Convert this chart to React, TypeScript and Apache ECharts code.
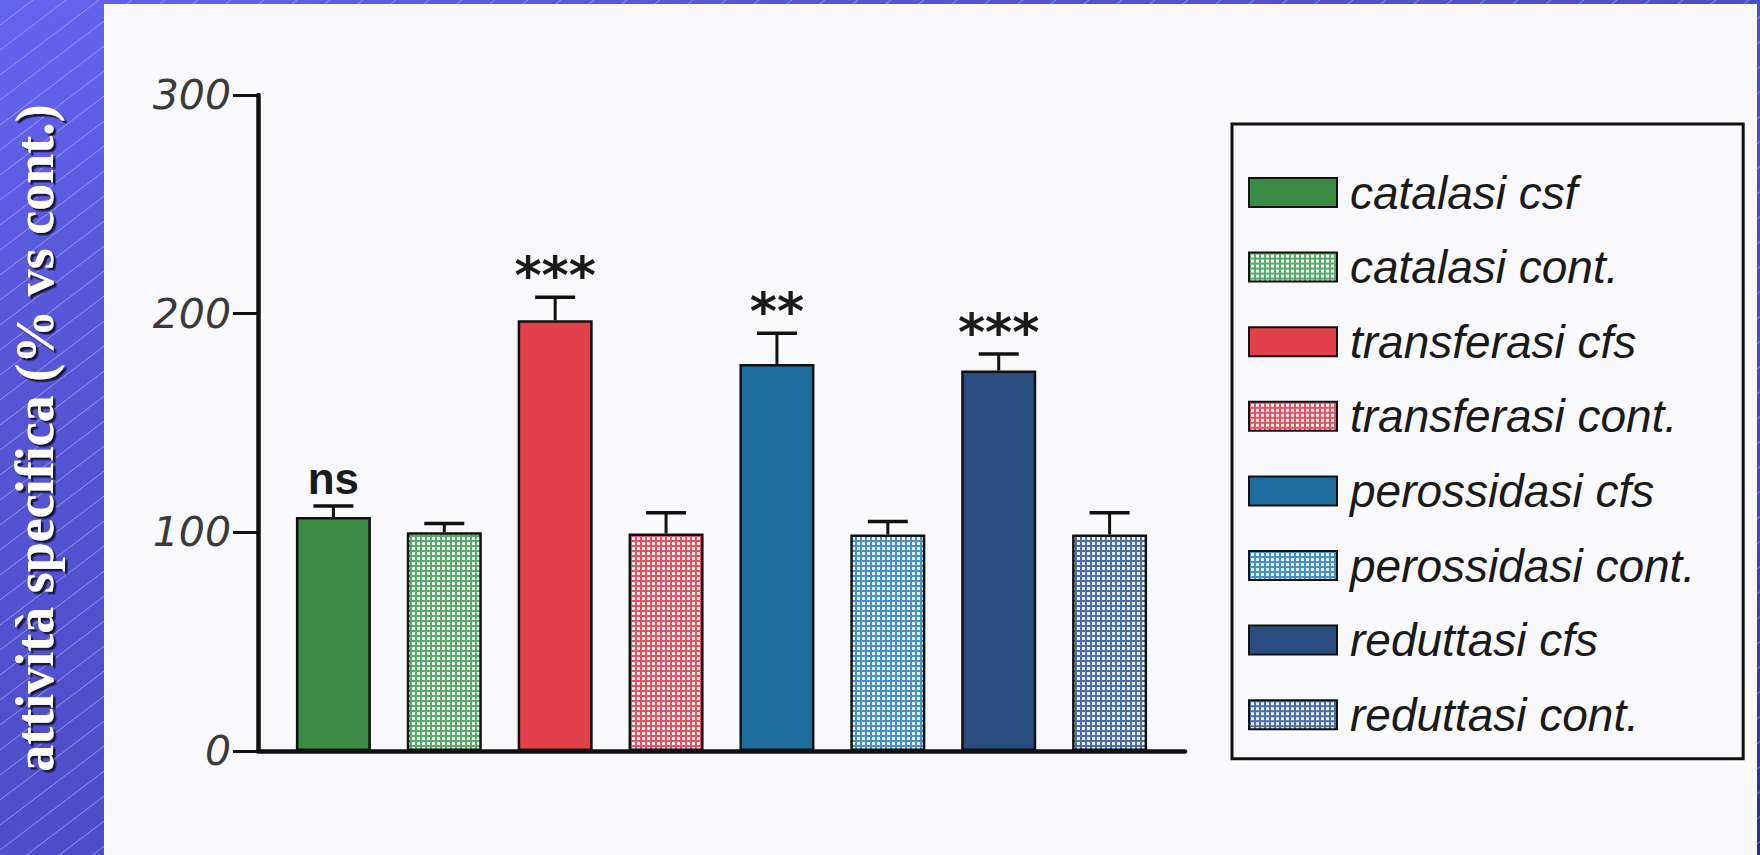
import React, { useEffect, useRef } from "react";
import * as echarts from "echarts";

// ---- data ----
const seriesNames = [
  "catalasi csf",
  "catalasi cont.",
  "transferasi cfs",
  "transferasi cont.",
  "perossidasi cfs",
  "perossidasi cont.",
  "reduttasi cfs",
  "reduttasi cont.",
];
const barPositions = [1, 2, 3, 4, 5, 6, 7, 8];
const meanValues = [107, 100, 197, 99.5, 177, 99, 174, 99];
const errorValues = [5, 4, 10.5, 9.5, 14, 6, 7.5, 10];
const sigLabels = ["ns", "", "***", "", "**", "", "***", ""];
const yTicks = [0, 100, 200, 300];
const yAxisTitle = "attività specifica (% vs cont.)";

// styles: solid colors for "cfs", patterns for "cont."
const solidColors = ["#3b8a46", null, "#e2414c", null, "#1f6c9f", null, "#2b4c7e"];
const patternDefs: Record<number, [string, string]> = {
  1: ["#eef9f0", "#5aa86a"],
  3: ["#fcecee", "#e05563"],
  5: ["#e6f4fc", "#4a90c4"],
  7: ["#e9f0f9", "#4d6fa8"],
};

function makeGridPattern(bg: string, line: string) {
  const c = document.createElement("canvas");
  c.width = 5;
  c.height = 5;
  const g = c.getContext("2d")!;
  g.fillStyle = bg;
  g.fillRect(0, 0, 5, 5);
  g.fillStyle = line;
  g.fillRect(0, 0, 5, 2);
  g.fillRect(0, 0, 2, 5);
  return c;
}

function makeHatch() {
  const w = 33, h = 25;
  const c = document.createElement("canvas");
  c.width = w;
  c.height = h;
  const g = c.getContext("2d")!;
  g.strokeStyle = "rgba(200,200,255,0.55)";
  g.lineWidth = 1;
  g.beginPath();
  g.moveTo(-w, 2 * h);
  g.lineTo(2 * w, -h);
  g.stroke();
  return c;
}

export default function App() {
  const ref = useRef<HTMLDivElement>(null);

  useEffect(() => {
    document.body.style.margin = "0";
    if (!ref.current) return;
    const chart = echarts.init(ref.current, null, { renderer: "svg" });

    const barSeries = seriesNames.map((name, i) => {
      const color = solidColors[i]
        ? solidColors[i]
        : { image: makeGridPattern(patternDefs[i][0], patternDefs[i][1]), repeat: "repeat" };
      return {
        name,
        type: "bar",
        barWidth: 75,
        barGap: "-100%",
        z: 2,
        itemStyle: {
          color,
          borderColor: "#111",
          borderWidth: 2.5,
        },
        data: [[barPositions[i], meanValues[i]]],
      };
    });

    const errorData = barPositions.map((x, i) => [x, meanValues[i], errorValues[i]]);

    const option: any = {
      animation: false,
      backgroundColor: {
        type: "linear",
        x: 0,
        y: 0,
        x2: 1,
        y2: 1,
        colorStops: [
          { offset: 0, color: "#6464f2" },
          { offset: 0.2, color: "#5757d7" },
          { offset: 0.8, color: "#4646be" },
          { offset: 1, color: "#2c2c8c" },
        ],
      },
      graphic: [
        {
          type: "rect",
          z: -2,
          silent: true,
          shape: { x: 0, y: 0, width: 1760, height: 855 },
          style: { fill: { image: makeHatch(), repeat: "repeat" } },
        },
        {
          type: "rect",
          z: -1,
          silent: true,
          shape: { x: 104, y: 4, width: 1653, height: 851 },
          style: { fill: "#f9f9fc" },
        },
      ],
      grid: { left: 258, right: 575, top: 95, bottom: 104, containLabel: false },
      legend: {
        orient: "vertical",
        left: 1232,
        top: 124,
        data: seriesNames,
        selectedMode: false,
        icon: "rect",
        itemWidth: 88,
        itemHeight: 29,
        itemGap: 28.6,
        padding: [45.5, 48, 21, 16],
        borderColor: "#111",
        borderWidth: 3,
        backgroundColor: "#f9f9fc",
        textStyle: {
          fontSize: 46,
          fontStyle: "italic",
          fontFamily: "Liberation Sans",
          color: "#1a1a1a",
          padding: [0, 0, 0, 8],
        },
      },
      xAxis: {
        type: "value",
        min: 0.32,
        max: 8.68,
        axisLine: { show: true, onZero: false, lineStyle: { color: "#111", width: 4.5 } },
        axisTick: { show: false },
        axisLabel: { show: false },
        splitLine: { show: false },
      },
      yAxis: {
        type: "value",
        min: yTicks[0],
        max: yTicks[yTicks.length - 1],
        interval: 100,
        name: yAxisTitle,
        nameLocation: "middle",
        nameRotate: 90,
        nameGap: 196,
        nameTextStyle: {
          color: "#ffffff",
          fontFamily: "Liberation Serif",
          fontWeight: "bold",
          fontSize: 54,
          padding: [0, 30, 0, 0],
          textShadowColor: "#14143c",
          textShadowOffsetX: -2.5,
          textShadowOffsetY: 2.5,
          textShadowBlur: 1,
        },
        axisLine: { show: true, lineStyle: { color: "#111", width: 4.5 } },
        axisTick: { show: true, length: 25, lineStyle: { color: "#111", width: 3 } },
        axisLabel: {
          margin: 27,
          fontSize: 41,
          fontStyle: "italic",
          fontFamily: "DejaVu Sans",
          color: "#3a3a3a",
        },
        splitLine: { show: false },
      },
      series: [
        ...barSeries,
        {
          name: "errors",
          type: "custom",
          silent: true,
          z: 5,
          data: errorData,
          renderItem: (params: any, api: any) => {
            const x = api.value(0);
            const m = api.value(1);
            const e = api.value(2);
            const base = api.coord([x, m]);
            const top = api.coord([x, m + e]);
            const half = 20;
            const children: any[] = [
              {
                type: "line",
                shape: { x1: base[0], y1: base[1], x2: top[0], y2: top[1] },
                style: { stroke: "#111", lineWidth: 3 },
              },
              {
                type: "line",
                shape: { x1: top[0] - half, y1: top[1], x2: top[0] + half, y2: top[1] },
                style: { stroke: "#111", lineWidth: 3.5 },
              },
            ];
            const lbl = sigLabels[params.dataIndex];
            if (lbl) {
              const isNs = lbl === "ns";
              children.push({
                type: "text",
                style: {
                  text: lbl,
                  x: top[0],
                  y: top[1] + (isNs ? -28 : -22),
                  align: "center",
                  verticalAlign: "middle",
                  fontSize: isNs ? 44 : 52,
                  fontWeight: "bold",
                  fontFamily: isNs ? "Liberation Sans" : "DejaVu Sans",
                  fill: "#1a1a1a",
                },
              });
            }
            return { type: "group", children };
          },
        },
      ],
    };

    chart.setOption(option);
    return () => chart.dispose();
  }, []);

  return (
    <div
      ref={ref}
      style={{ position: "absolute", left: 0, top: 0, width: 1760, height: 855 }}
    />
  );
}
